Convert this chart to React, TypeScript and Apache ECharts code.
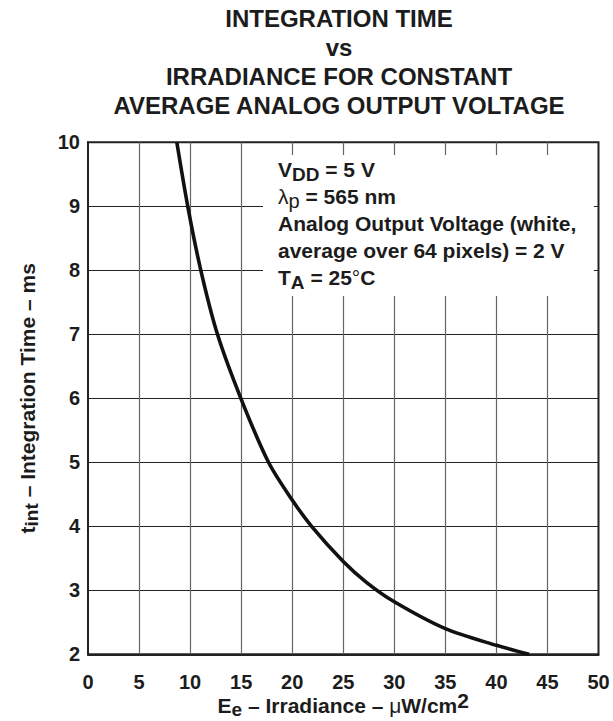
import React, { useEffect, useRef } from "react";
import * as echarts from "echarts";

const irradiance = [8.7, 9.77, 11.05, 12.68, 14.97, 17.68, 20, 21.9, 25, 27.3, 30, 35, 40, 43.2];
const tint = [10, 9, 8, 7, 6, 5, 4.41, 4, 3.45, 3.12, 2.82, 2.4, 2.14, 2];
const xTicks = [0, 5, 10, 15, 20, 25, 30, 35, 40, 45, 50];
const yTicks = [2, 3, 4, 5, 6, 7, 8, 9, 10];
const titleLines = [
  "INTEGRATION TIME",
  "vs",
  "IRRADIANCE FOR CONSTANT",
  "AVERAGE ANALOG OUTPUT VOLTAGE",
];
const noteLines = [
  "{n|V}{s|DD}{n| = 5 V}",
  "{g|λ}{ps|p}{n| = 565 nm}",
  "{n|Analog Output Voltage (white,}",
  "{n|average over 64 pixels) = 2 V}",
  "{n|T}{s|A}{n| = 25}{g|°}{n|C}",
];

const FONT = "'Liberation Sans', Arial, Helvetica, sans-serif";
const INK = "#1c1c1c";

export default function App() {
  const ref = useRef<HTMLDivElement>(null);
  useEffect(() => {
    document.body.style.margin = "0";
    const chart = echarts.init(ref.current!, null, { renderer: "svg" });
    const noteRich = {
      n: { fontSize: 21, fontWeight: "bold", fontFamily: FONT, color: INK, lineHeight: 20, verticalAlign: "middle" },
      s: { fontSize: 19, fontWeight: "bold", fontFamily: FONT, color: INK, lineHeight: 14, padding: [10, 0, 0, 0], verticalAlign: "middle" },
      ps: { fontSize: 20, fontWeight: "normal", fontFamily: FONT, color: INK, lineHeight: 14, padding: [10, 0, 0, 0], verticalAlign: "middle" },
      g: { fontSize: 21, fontWeight: "normal", fontFamily: FONT, color: INK, lineHeight: 20, verticalAlign: "middle" },
    };
    const graphics: any[] = [
      {
        type: "rect",
        z: 5,
        shape: { x: 263, y: 155, width: 331, height: 141 },
        style: { fill: "#ffffff" },
      },
      ...noteLines.map((t, i) => ({
        type: "text",
        z: 6,
        x: 278,
        y: 169 + i * 27.2,
        style: {
          text: t,
          rich: noteRich,
          align: "left",
          verticalAlign: "middle",
          fill: INK,
        },
      })),
    ];
    const nameRich = {
      n: { fontSize: 21, fontWeight: "bold", fontFamily: FONT, color: INK, lineHeight: 20, verticalAlign: "middle" },
      s: { fontSize: 19, fontWeight: "bold", fontFamily: FONT, color: INK, lineHeight: 14, padding: [9, 0, 0, 0], verticalAlign: "middle" },
      g: { fontSize: 21, fontWeight: "normal", fontFamily: FONT, color: INK, lineHeight: 20, verticalAlign: "middle" },
      sup: { fontSize: 21, fontWeight: "bold", fontFamily: FONT, color: INK, lineHeight: 14, padding: [0, 0, 10, 0], verticalAlign: "middle" },
    };
    chart.setOption({
      animation: false,
      title: {
        text: titleLines.join("\n"),
        left: 339,
        top: 4,
        padding: 0,
        textAlign: "center",
        textStyle: {
          fontFamily: FONT,
          fontWeight: "bold",
          fontSize: 24,
          lineHeight: 29,
          color: INK,
        },
      },
      grid: {
        left: 88,
        right: 14.5,
        top: 142.3,
        bottom: 66.7,
        show: true,
        borderColor: "#222",
        borderWidth: 2,
        containLabel: false,
        outerBoundsMode: "none",
      },
      xAxis: {
        type: "value",
        min: 0,
        max: 50,
        interval: 5,
        name: "{n|E}{s|e}{n| – Irradiance – }{g|μ}{n|W/cm}{sup|2}",
        nameLocation: "middle",
        nameGap: 41,
        nameMoveOverlap: false,
        nameTextStyle: { rich: nameRich },
        axisLine: { show: true, lineStyle: { color: "#222", width: 2 } },
        axisTick: { show: false },
        axisLabel: {
          margin: 18,
          fontFamily: FONT,
          fontWeight: "bold",
          fontSize: 20,
          color: INK,
          formatter: (v: number) => (xTicks.includes(v) ? String(v) : ""),
        },
        splitLine: {
          show: true,
          showMinLine: false,
          showMaxLine: false,
          lineStyle: { color: "#666", width: 1.2 },
        },
      },
      yAxis: {
        type: "value",
        min: 2,
        max: 10,
        interval: 1,
        name: "{n|t}{s|int}{n| – Integration Time – ms}",
        nameLocation: "middle",
        nameGap: 51,
        nameRotate: 90,
        nameMoveOverlap: false,
        nameTextStyle: { rich: nameRich },
        axisLine: { show: true, lineStyle: { color: "#222", width: 2 } },
        axisTick: { show: false },
        axisLabel: {
          margin: 8,
          fontFamily: FONT,
          fontWeight: "bold",
          fontSize: 20,
          color: INK,
          formatter: (v: number) => (yTicks.includes(v) ? String(v) : ""),
        },
        splitLine: {
          show: true,
          showMinLine: false,
          showMaxLine: false,
          lineStyle: { color: "#222", width: 1.2 },
        },
      },
      graphic: graphics,
      series: [
        {
          type: "line",
          data: irradiance.map((x, i) => [x, tint[i]]),
          showSymbol: false,
          smooth: 0.3,
          lineStyle: { color: "#111", width: 3.6 },
          clip: true,
          z: 3,
        },
      ],
    });
    return () => chart.dispose();
  }, []);
  return (
    <div
      ref={ref}
      style={{ position: "absolute", left: 0, top: 0, width: 613, height: 721, background: "#fff" }}
    />
  );
}
